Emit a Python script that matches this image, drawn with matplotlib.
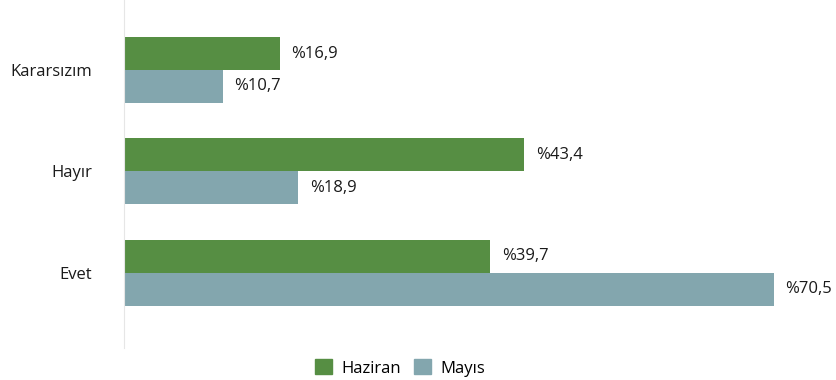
import numpy as np
import matplotlib.pyplot as plt
from matplotlib.patches import Patch

plt.rcParams['font.family'] = ['Open Sans', 'DejaVu Sans']

categories = ['Evet', 'Hayır', 'Kararsızım']
haziran = [39.7, 43.4, 16.9]
mayis = [70.5, 18.9, 10.7]

green = '#568e43'
grey = '#83a6ae'
fs = 12

fig = plt.figure(figsize=(8.37, 3.80), dpi=100)
ax = fig.add_axes([124 / 837, 32 / 380, 705 / 837, 348 / 380])

y = np.arange(len(categories))
h = 0.325
ax.barh(y + h / 2, haziran, height=h, color=green)
ax.barh(y - h / 2, mayis, height=h, color=grey)

def fmt(v):
    return '%' + f'{v:.1f}'.replace('.', ',')

for yi, v in zip(y + h / 2, haziran):
    ax.annotate(fmt(v), (v, yi), xytext=(8.5, 0), textcoords='offset points',
                va='center', ha='left', fontsize=fs, color='#1a1a1a')
for yi, v in zip(y - h / 2, mayis):
    ax.annotate(fmt(v), (v, yi), xytext=(8.5, 0), textcoords='offset points',
                va='center', ha='left', fontsize=fs, color='#1a1a1a')

ax.set_xlim(0, 76.5)
ax.set_ylim(-0.74, 2.69)
ax.set_yticks(y)
ax.set_yticklabels(categories, fontsize=fs, color='#1a1a1a')
ax.tick_params(axis='y', length=0, pad=23)
ax.set_xticks([])
for side in ['top', 'right', 'bottom']:
    ax.spines[side].set_visible(False)
ax.spines['left'].set_color('#e6e6e6')
ax.spines['left'].set_linewidth(0.8)

handles = [Patch(color=green, label='Haziran'), Patch(color=grey, label='Mayıs')]
fig.legend(handles=handles, loc='center', bbox_to_anchor=(400 / 837, 12 / 380),
           ncol=2, frameon=False, fontsize=fs, handlelength=1.0,
           handleheight=1.0, handletextpad=0.55, columnspacing=0.8)

fig.savefig('out.png', dpi=100)
